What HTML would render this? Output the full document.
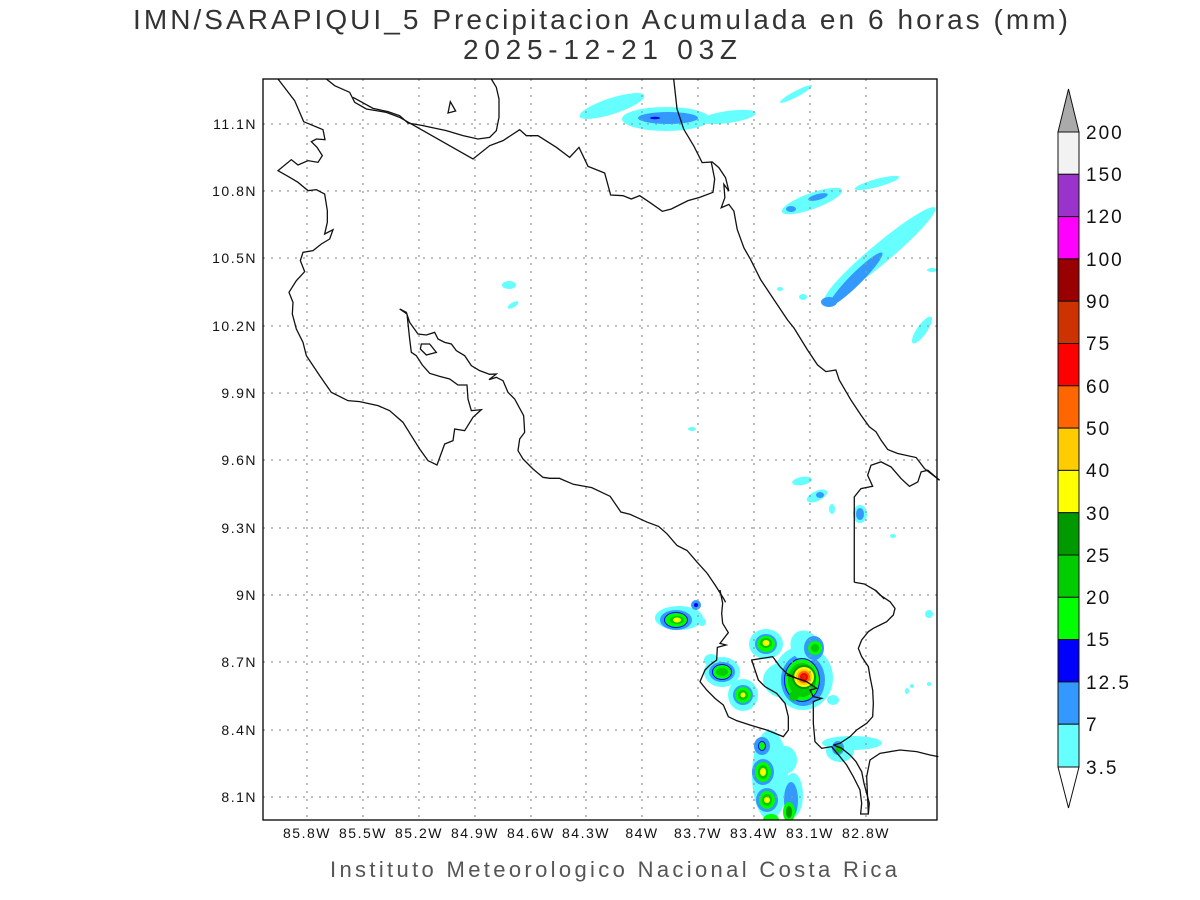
<!DOCTYPE html>
<html><head><meta charset="utf-8"><style>
html,body{margin:0;padding:0;background:#fff;}
svg{display:block;font-family:"Liberation Sans",sans-serif;}
</style></head><body>
<svg width="1200" height="900" viewBox="0 0 1200 900" xmlns="http://www.w3.org/2000/svg">
<rect width="1200" height="900" fill="#fff"/>
<text x="133" y="29" font-size="28" textLength="935" lengthAdjust="spacing" fill="#333">IMN/SARAPIQUI_5 Precipitacion Acumulada en 6 horas (mm)</text>
<text x="463" y="59" font-size="28" textLength="274" lengthAdjust="spacing" fill="#333">2025-12-21 03Z</text>

<!-- precip -->
<g>
<ellipse cx="612" cy="106" rx="34" ry="8" fill="#66ffff" transform="rotate(-18 612 106)"/>
<ellipse cx="666" cy="119" rx="44" ry="12" fill="#66ffff"/>
<ellipse cx="728" cy="117" rx="28" ry="6" fill="#66ffff" transform="rotate(-8 728 117)"/>
<ellipse cx="668" cy="118" rx="30" ry="6" fill="#3399ff"/>
<ellipse cx="655" cy="118" rx="5" ry="1.2" fill="#0000ff"/>
<ellipse cx="796" cy="94" rx="18" ry="3" fill="#66ffff" transform="rotate(-28 796 94)"/>
<ellipse cx="812" cy="201" rx="32" ry="8" fill="#66ffff" transform="rotate(-20 812 201)"/>
<ellipse cx="818" cy="197" rx="10" ry="3" fill="#3399ff" transform="rotate(-15 818 197)"/>
<ellipse cx="791" cy="209" rx="5" ry="3" fill="#3399ff"/>
<ellipse cx="877" cy="183" rx="23" ry="4" fill="#66ffff" transform="rotate(-15 877 183)"/>
<ellipse cx="880" cy="254" rx="72" ry="10" fill="#66ffff" transform="rotate(-40 880 254)"/>
<ellipse cx="856" cy="279" rx="37" ry="6" fill="#3399ff" transform="rotate(-45 856 279)"/>
<ellipse cx="829" cy="302" rx="8" ry="5" fill="#3399ff"/>
<ellipse cx="922" cy="330" rx="16" ry="5" fill="#66ffff" transform="rotate(-55 922 330)"/>
<ellipse cx="932" cy="270" rx="5" ry="2" fill="#66ffff"/>
<ellipse cx="803" cy="297" rx="4" ry="3" fill="#66ffff"/>
<ellipse cx="780" cy="289" rx="3" ry="2" fill="#66ffff"/>
<ellipse cx="509" cy="285" rx="7" ry="4" fill="#66ffff"/>
<ellipse cx="513" cy="305" rx="6" ry="2.5" fill="#66ffff" transform="rotate(-30 513 305)"/>
<ellipse cx="692" cy="429" rx="4" ry="2" fill="#66ffff"/>
<ellipse cx="802" cy="481" rx="10" ry="4" fill="#66ffff" transform="rotate(-10 802 481)"/>
<ellipse cx="817" cy="496" rx="11" ry="5" fill="#66ffff" transform="rotate(-25 817 496)"/>
<ellipse cx="820" cy="495" rx="4" ry="3" fill="#3399ff"/>
<ellipse cx="832" cy="509" rx="3" ry="5" fill="#66ffff"/>
<ellipse cx="860" cy="514" rx="7" ry="9" fill="#66ffff"/>
<ellipse cx="860" cy="514" rx="4" ry="6" fill="#3399ff"/>
<ellipse cx="893" cy="536" rx="3" ry="2" fill="#66ffff"/>
<ellipse cx="929" cy="614" rx="4" ry="4" fill="#66ffff"/>

<!-- south -->
<ellipse cx="679" cy="618" rx="24" ry="12" fill="#66ffff"/>
<ellipse cx="676" cy="620" rx="16" ry="10" fill="#3399ff"/>
<ellipse cx="676" cy="620" rx="12" ry="8" fill="#0000ff"/>
<ellipse cx="676" cy="620" rx="11" ry="7" fill="#00ff00"/>
<ellipse cx="677" cy="620" rx="7" ry="4" fill="#00cc00"/>
<ellipse cx="677" cy="620" rx="4" ry="2.5" fill="#ffff00"/>
<ellipse cx="696" cy="605" rx="5" ry="5" fill="#3399ff"/>
<ellipse cx="696" cy="605" rx="2" ry="2" fill="#0000ff"/>
<ellipse cx="702" cy="622" rx="4" ry="4" fill="#66ffff"/>
<ellipse cx="711" cy="660" rx="7" ry="6" fill="#66ffff"/>
<ellipse cx="722" cy="672" rx="18" ry="15" fill="#66ffff"/>
<ellipse cx="722" cy="672" rx="13" ry="10" fill="#3399ff"/>
<ellipse cx="722" cy="672" rx="10" ry="8" fill="#0000ff"/>
<ellipse cx="722" cy="672" rx="9" ry="7" fill="#00ff00"/>
<ellipse cx="722" cy="672" rx="6" ry="4" fill="#00cc00"/>
<ellipse cx="766" cy="644" rx="17" ry="15" fill="#66ffff"/>
<ellipse cx="766" cy="644" rx="11" ry="10" fill="#3399ff"/>
<ellipse cx="766" cy="644" rx="9" ry="8" fill="#00ff00"/>
<ellipse cx="766" cy="643" rx="6" ry="5" fill="#00cc00"/>
<ellipse cx="766" cy="643" rx="3.5" ry="3" fill="#ffff00"/>
<ellipse cx="743" cy="695" rx="15" ry="16" fill="#66ffff"/>
<ellipse cx="743" cy="695" rx="10" ry="10" fill="#3399ff"/>
<ellipse cx="743" cy="695" rx="8" ry="8" fill="#00ff00"/>
<ellipse cx="743" cy="695" rx="5" ry="5" fill="#00cc00"/>
<ellipse cx="743" cy="695" rx="2.5" ry="2.5" fill="#ffff00"/>
<ellipse cx="785" cy="680" rx="22" ry="18" fill="#66ffff"/>
<ellipse cx="803" cy="678" rx="30" ry="32" fill="#66ffff"/>
<ellipse cx="803" cy="680" rx="22" ry="26" fill="#3399ff"/>
<ellipse cx="805" cy="646" rx="14" ry="16" fill="#66ffff" transform="rotate(-30 805 646)"/>
<ellipse cx="814" cy="648" rx="10" ry="12" fill="#3399ff"/>
<ellipse cx="815" cy="648" rx="7" ry="7" fill="#00ff00"/>
<ellipse cx="815" cy="648" rx="4" ry="4" fill="#00cc00"/>
<ellipse cx="802" cy="680" rx="18" ry="22" fill="#0000ff"/>
<ellipse cx="802" cy="680" rx="17" ry="21" fill="#00ff00"/>
<ellipse cx="802" cy="680" rx="14" ry="17" fill="#00cc00"/>
<ellipse cx="804" cy="677" rx="12" ry="12" fill="#009900"/>
<ellipse cx="804" cy="677" rx="10" ry="10" fill="#ffff00"/>
<ellipse cx="804" cy="677" rx="8" ry="8" fill="#ffcc00"/>
<ellipse cx="804" cy="677" rx="6" ry="6" fill="#ff6600"/>
<ellipse cx="804" cy="677" rx="4" ry="4" fill="#ff0000"/>
<ellipse cx="804" cy="677" rx="2" ry="2" fill="#cc3300"/>
<ellipse cx="794" cy="696" rx="5" ry="5" fill="#00cc00"/>
<ellipse cx="833" cy="700" rx="6" ry="5" fill="#66ffff"/>
<ellipse cx="912" cy="686" rx="2" ry="2" fill="#66ffff"/>
<ellipse cx="929" cy="684" rx="2" ry="2" fill="#66ffff"/>
<ellipse cx="907" cy="691" rx="2" ry="3" fill="#66ffff"/>
<ellipse cx="852" cy="743" rx="30" ry="7" fill="#66ffff"/>
<ellipse cx="840" cy="751" rx="14" ry="11" fill="#66ffff"/>
<ellipse cx="838" cy="748" rx="6" ry="7" fill="#3399ff"/>
<ellipse cx="839" cy="749" rx="3" ry="4" fill="#00cc00"/>
<ellipse cx="770" cy="775" rx="18" ry="45" fill="#66ffff"/>
<ellipse cx="785" cy="760" rx="12" ry="14" fill="#66ffff"/>
<ellipse cx="793" cy="795" rx="10" ry="22" fill="#66ffff"/>
<ellipse cx="791" cy="800" rx="7" ry="18" fill="#3399ff"/>
<ellipse cx="762" cy="746" rx="8" ry="9" fill="#3399ff"/>
<ellipse cx="762" cy="746" rx="4" ry="5" fill="#0000ff"/>
<ellipse cx="762" cy="746" rx="3" ry="4" fill="#00ff00"/>
<ellipse cx="763" cy="772" rx="11" ry="13" fill="#3399ff"/>
<ellipse cx="763" cy="772" rx="8" ry="10" fill="#00ff00"/>
<ellipse cx="763" cy="772" rx="5" ry="7" fill="#00cc00"/>
<ellipse cx="763" cy="772" rx="3" ry="4" fill="#ffff00"/>
<ellipse cx="767" cy="800" rx="11" ry="12" fill="#3399ff"/>
<ellipse cx="767" cy="800" rx="8" ry="9" fill="#00ff00"/>
<ellipse cx="767" cy="800" rx="5" ry="6" fill="#00cc00"/>
<ellipse cx="767" cy="800" rx="3" ry="3" fill="#ffff00"/>
<ellipse cx="789" cy="812" rx="6" ry="10" fill="#00ff00"/>
<ellipse cx="789" cy="812" rx="3" ry="6" fill="#009900"/>
<ellipse cx="771" cy="820" rx="8" ry="6" fill="#00ff00"/>
</g>
<rect x="937" y="60" width="100" height="800" fill="#fff"/>
<rect x="200" y="820" width="800" height="40" fill="#fff"/>

<!-- grid -->
<g stroke="#999" stroke-width="1.3" stroke-dasharray="2,6">
<line x1="307" y1="79" x2="307" y2="820"/><line x1="363" y1="79" x2="363" y2="820"/><line x1="419" y1="79" x2="419" y2="820"/><line x1="475" y1="79" x2="475" y2="820"/><line x1="531" y1="79" x2="531" y2="820"/><line x1="586" y1="79" x2="586" y2="820"/><line x1="642" y1="79" x2="642" y2="820"/><line x1="698" y1="79" x2="698" y2="820"/><line x1="754" y1="79" x2="754" y2="820"/><line x1="810" y1="79" x2="810" y2="820"/><line x1="866" y1="79" x2="866" y2="820"/>
<line x1="263" y1="124" x2="937" y2="124"/><line x1="263" y1="191" x2="937" y2="191"/><line x1="263" y1="258" x2="937" y2="258"/><line x1="263" y1="326" x2="937" y2="326"/><line x1="263" y1="393" x2="937" y2="393"/><line x1="263" y1="460" x2="937" y2="460"/><line x1="263" y1="528" x2="937" y2="528"/><line x1="263" y1="595" x2="937" y2="595"/><line x1="263" y1="662" x2="937" y2="662"/><line x1="263" y1="730" x2="937" y2="730"/><line x1="263" y1="797" x2="937" y2="797"/>
</g>

<!-- coastlines zoom3 -->
<g transform="translate(263,79) scale(0.33333)" fill="none" stroke="#111" stroke-width="1.3">
<polyline vector-effect="non-scaling-stroke" points="45,0 95,65 122,128 180,152 186,182 160,180 145,188 162,205 178,230 165,250 135,245 105,258 85,242 45,275 80,295 105,310 135,335 160,332 185,345 193,395 193,430 185,465 210,452 200,480 175,495 150,515 120,520 112,545 125,578 100,605 78,640 90,670 88,705 100,750 120,790 130,830 170,890 205,940 255,965 290,968 345,980 380,995 420,1030 445,1070 470,1110 495,1145 522,1158 545,1095 570,1085 575,1050 605,1055 630,1015 655,992 625,995 615,960 612,918 585,918 560,900 530,892 500,883 478,858 460,830 445,820 440,780 432,705 410,690 430,700 440,730 465,765 490,768 515,760 525,780 545,790 565,795 580,815 605,830 625,860 650,875 680,886 700,885 678,902 700,895 720,905 735,940 755,960 782,1010 785,1060 770,1080 765,1115 780,1140 810,1170 840,1195 860,1198 892,1198"/>
<polyline vector-effect="non-scaling-stroke" points="190,0 215,20 260,40 275,70 310,90 370,100 410,115 630,240 680,200 720,185 770,152 790,170 825,170 880,205 920,235 948,205 975,262 1025,282 1043,348 1080,350 1105,360 1130,350 1160,370 1198,397 1225,390 1275,365 1310,355 1350,340 1355,300 1345,250"/>
<polyline vector-effect="non-scaling-stroke" points="270,55 330,88 375,98 410,110 435,132 480,140 550,155 600,170 645,180 680,175 700,155 708,115 708,60 700,25 685,0"/>
<polygon vector-effect="non-scaling-stroke" points="555,102 562,68 578,96"/>
<polygon vector-effect="non-scaling-stroke" points="475,795 500,795 520,820 490,828 472,810"/>
</g>
<!-- zoom4 -->
<g transform="translate(560,79) scale(0.3344)" fill="none" stroke="#111" stroke-width="1.3">
<polyline vector-effect="non-scaling-stroke" points="0,1195 40,1212 95,1222 150,1248 182,1295 210,1302 260,1325 295,1338 320,1360 350,1395 380,1410 410,1445 440,1478 465,1515 490,1555 495,1565"/>
<polyline vector-effect="non-scaling-stroke" points="340,0 350,90 370,150 400,200 425,250 455,248 475,265 495,295 505,335 490,315 493,355 482,385 505,375 520,395 530,450 550,505 570,540 600,600 640,660 680,720 700,745 740,810 770,855 795,875 825,870 835,900 870,960 900,1005 925,1040 945,1055 960,1080 980,1108 1010,1120 1065,1132 1090,1165 1135,1200"/>
<polyline vector-effect="non-scaling-stroke" points="880,1505 880,1250 900,1225 935,1218 920,1185 930,1155 960,1145 990,1160 1020,1195 1045,1218 1070,1205 1080,1175 1100,1170 1135,1200"/>
<polyline vector-effect="non-scaling-stroke" points="880,1505 910,1510 945,1530 970,1555"/>
</g>
<!-- zoom1 -->
<g transform="translate(640,590) scale(0.33333)" fill="none" stroke="#111" stroke-width="1.3">
<polyline vector-effect="non-scaling-stroke" points="240,0 248,40 245,70 248,100 265,128 240,160 258,165 232,172 230,210 210,225 195,240 180,275 200,300 225,325 250,345 265,380 290,392 330,405 380,420 430,440 445,420 445,380 435,340 410,310 375,290 355,270 335,210 398,200 420,230 440,250 470,265 500,275 530,295 510,300 520,320 545,325 520,335 520,400 525,455 545,475 575,470 600,500 620,525 640,560 660,600 665,640 662,672 685,672 688,640 680,610 672,580 665,545 648,515 630,495 605,475 580,465"/>
<polyline vector-effect="non-scaling-stroke" points="440,255 500,275"/>
<polyline vector-effect="non-scaling-stroke" points="685,672 680,560 690,510 720,490 780,480 830,485 870,495 895,500"/>
<polyline vector-effect="non-scaling-stroke" points="705,0 720,15 750,35 765,55 760,75 740,95 720,105 700,115 685,125 665,150 655,175 665,200 685,230 690,260 698,300 700,340 698,380 680,400 650,420 630,440 600,460 580,465"/>
</g>

<rect x="263" y="79" width="674" height="741" fill="none" stroke="#000" stroke-width="1.3"/>

<!-- axis labels -->
<g font-size="14" fill="#111" text-anchor="end" letter-spacing="1.5">
<text x="257" y="129">11.1N</text><text x="257" y="196">10.8N</text><text x="257" y="263">10.5N</text><text x="257" y="331">10.2N</text><text x="257" y="398">9.9N</text><text x="257" y="465">9.6N</text><text x="257" y="533">9.3N</text><text x="257" y="600">9N</text><text x="257" y="667">8.7N</text><text x="257" y="735">8.4N</text><text x="257" y="802">8.1N</text>
</g>
<g font-size="14" fill="#111" text-anchor="middle" letter-spacing="1.5">
<text x="307" y="838">85.8W</text><text x="363" y="838">85.5W</text><text x="419" y="838">85.2W</text><text x="475" y="838">84.9W</text><text x="531" y="838">84.6W</text><text x="586" y="838">84.3W</text><text x="642" y="838">84W</text><text x="698" y="838">83.7W</text><text x="754" y="838">83.4W</text><text x="810" y="838">83.1W</text><text x="866" y="838">82.8W</text>
</g>
<text x="330" y="877" font-size="22" textLength="567" lengthAdjust="spacing" fill="#555">Instituto Meteorologico Nacional Costa Rica</text>

<!-- colorbar -->
<g stroke="#111" stroke-width="1">
<polygon points="1058,132 1079,132 1068.5,89" fill="#aaaaaa"/>
<polygon points="1058,767 1079,767 1068.5,808" fill="#fff"/>
<rect x="1058" y="132" width="21" height="42.3" fill="#f2f2f2"/>
<rect x="1058" y="174.3" width="21" height="42.3" fill="#9933cc"/>
<rect x="1058" y="216.6" width="21" height="42.3" fill="#ff00ff"/>
<rect x="1058" y="258.9" width="21" height="42.3" fill="#990000"/>
<rect x="1058" y="301.2" width="21" height="42.3" fill="#cc3300"/>
<rect x="1058" y="343.5" width="21" height="42.3" fill="#ff0000"/>
<rect x="1058" y="385.8" width="21" height="42.3" fill="#ff6600"/>
<rect x="1058" y="428.1" width="21" height="42.3" fill="#ffcc00"/>
<rect x="1058" y="470.4" width="21" height="42.3" fill="#ffff00"/>
<rect x="1058" y="512.7" width="21" height="42.3" fill="#009900"/>
<rect x="1058" y="555" width="21" height="42.3" fill="#00cc00"/>
<rect x="1058" y="597.3" width="21" height="42.3" fill="#00ff00"/>
<rect x="1058" y="639.6" width="21" height="42.3" fill="#0000ff"/>
<rect x="1058" y="681.9" width="21" height="42.3" fill="#3399ff"/>
<rect x="1058" y="724.2" width="21" height="42.8" fill="#66ffff"/>
</g>
<g font-size="19" fill="#111" letter-spacing="2">
<text x="1086" y="139">200</text><text x="1086" y="181">150</text><text x="1086" y="223">120</text><text x="1086" y="266">100</text><text x="1086" y="308">90</text><text x="1086" y="350">75</text><text x="1086" y="393">60</text><text x="1086" y="435">50</text><text x="1086" y="477">40</text><text x="1086" y="520">30</text><text x="1086" y="562">25</text><text x="1086" y="604">20</text><text x="1086" y="646">15</text><text x="1086" y="689">12.5</text><text x="1086" y="731">7</text><text x="1086" y="774">3.5</text>
</g>
</svg>
</body></html>
